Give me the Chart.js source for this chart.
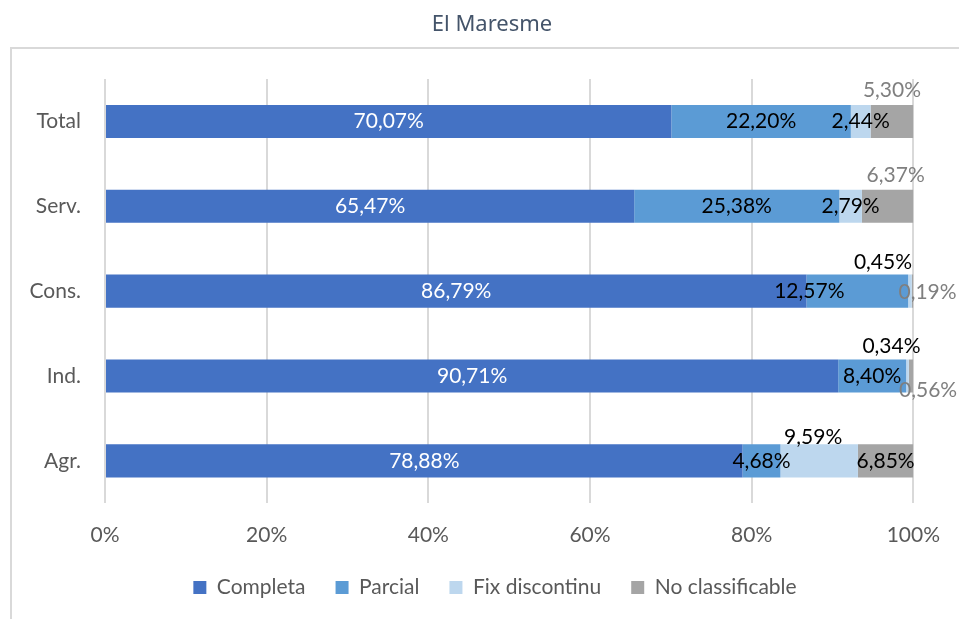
<!DOCTYPE html>
<html lang="ca">
<head>
  <meta charset="UTF-8" />
  <title>El Maresme</title>
  <script src="https://cdn.jsdelivr.net/npm/chart.js"></script>
  <style>
    body { margin: 0; background: #fff; }
    #wrap { width: 959px; height: 619px; position: relative; }
  </style>
</head>
<body>
  <div id="wrap"><canvas id="chart"></canvas></div>

  <script>
    const chartTitle = 'El Maresme';
    const sectors = ['Total', 'Serv.', 'Cons.', 'Ind.', 'Agr.'];
    const seriesNames = ['Completa', 'Parcial', 'Fix discontinu', 'No classificable'];
    const completa = [70.07, 65.47, 86.79, 90.71, 78.88];
    const parcial = [22.20, 25.38, 12.57, 8.40, 4.68];
    const fixDiscontinu = [2.44, 2.79, 0.45, 0.34, 9.59];
    const noClassificable = [5.30, 6.37, 0.19, 0.56, 6.85];
    const xTicks = [0, 20, 40, 60, 80, 100];

    const colors = ['#4472c4', '#5b9bd5', '#bdd7ee', '#a5a5a5'];
    const labelColors = [
      ['#fff', '#fff', '#fff', '#fff', '#fff'],
      ['#000', '#000', '#000', '#000', '#000'],
      ['#000', '#000', '#000', '#000', '#000'],
      ['#7f7f7f', '#7f7f7f', '#7f7f7f', '#7f7f7f', '#000']
    ];
    // label nudges from the middle of each segment (dx, dy), like the hand-moved Excel labels
    const labelShift = [
      [[0, 0], [0, 0], [0, 0], [0, 0], [0, 0]],
      [[0, 0], [0, 0], [-48, 0], [0, 0], [0, 0]],
      [[0, 0], [0, 0], [-27, -29], [-16, -30], [-6, -24]],
      [[0, -31], [8, -31], [15, 1], [17, 14], [0, 0]]
    ];

    const FONT = 'Lato, "Open Sans", sans-serif';
    const padL = 20, padR = 43;
    const legendShift = 27;

    const fmt = v => v.toFixed(2).replace('.', ',') + '%';

    const frame = {
      id: 'frame',
      afterLayout(chart) {
        // Excel centres the legend on the whole chart box, which runs past the right edge
        chart.legend.left += legendShift;
        chart.legend.right += legendShift;
      },
      beforeDraw(chart) {
        const ctx = chart.ctx;
        ctx.save();
        ctx.strokeStyle = '#d9d9d9';
        ctx.lineWidth = 2;
        ctx.strokeRect(11, 48, 2000, 2000);
        ctx.fillStyle = '#44546a';
        ctx.font = '22px "Noto Sans", sans-serif';
        ctx.textAlign = 'center';
        ctx.textBaseline = 'middle';
        ctx.fillText(chartTitle, 492, 25);
        ctx.restore();
      }
    };

    const barLabels = {
      id: 'barLabels',
      afterDatasetsDraw(chart) {
        const ctx = chart.ctx;
        ctx.save();
        ctx.font = '21px ' + FONT;
        ctx.textAlign = 'center';
        ctx.textBaseline = 'middle';
        chart.data.datasets.forEach((ds, i) => {
          chart.getDatasetMeta(i).data.forEach((bar, j) => {
            const p = bar.getProps(['x', 'y', 'base'], true);
            const [dx, dy] = labelShift[i][j];
            ctx.fillStyle = labelColors[i][j];
            ctx.fillText(fmt(ds.data[j]), (p.x + p.base) / 2 + dx, p.y + dy);
          });
        });
        ctx.restore();
      }
    };

    const seriesData = [completa, parcial, fixDiscontinu, noClassificable];

    new Chart(document.getElementById('chart'), {
      type: 'bar',
      data: {
        labels: sectors,
        datasets: seriesNames.map((name, i) => ({
          label: name,
          data: seriesData[i],
          backgroundColor: colors[i],
          borderWidth: 0,
          categoryPercentage: 1,
          barPercentage: 0.39
        }))
      },
      options: {
        indexAxis: 'y',
        responsive: true,
        maintainAspectRatio: false,
        animation: false,
        layout: { padding: { left: padL, right: padR, top: 79, bottom: 11 } },
        scales: {
          x: {
            stacked: true,
            min: 0,
            max: 100,
            afterBuildTicks: s => { s.ticks = xTicks.map(v => ({ value: v })); },
            afterFit: s => { s.height -= 19.5; },
            grid: { color: '#d9d9d9', lineWidth: 2, drawTicks: false },
            border: { display: false },
            ticks: {
              padding: 19,
              color: '#595959',
              font: { family: FONT, size: 21 },
              callback: v => v + '%'
            }
          },
          y: {
            stacked: true,
            grid: { display: false, drawTicks: false },
            border: { display: false },
            afterFit: s => { s.width = 105 - padL; },
            ticks: {
              padding: 24,
              color: '#595959',
              font: { family: FONT, size: 21 }
            }
          }
        },
        plugins: {
          title: { display: false },
          tooltip: { enabled: false },
          legend: {
            position: 'bottom',
            labels: {
              boxWidth: 13,
              boxHeight: 13,
              padding: 30,
              color: '#595959',
              font: { family: FONT, size: 21 }
            }
          }
        }
      },
      plugins: [frame, barLabels]
    });
  </script>
</body>
</html>
